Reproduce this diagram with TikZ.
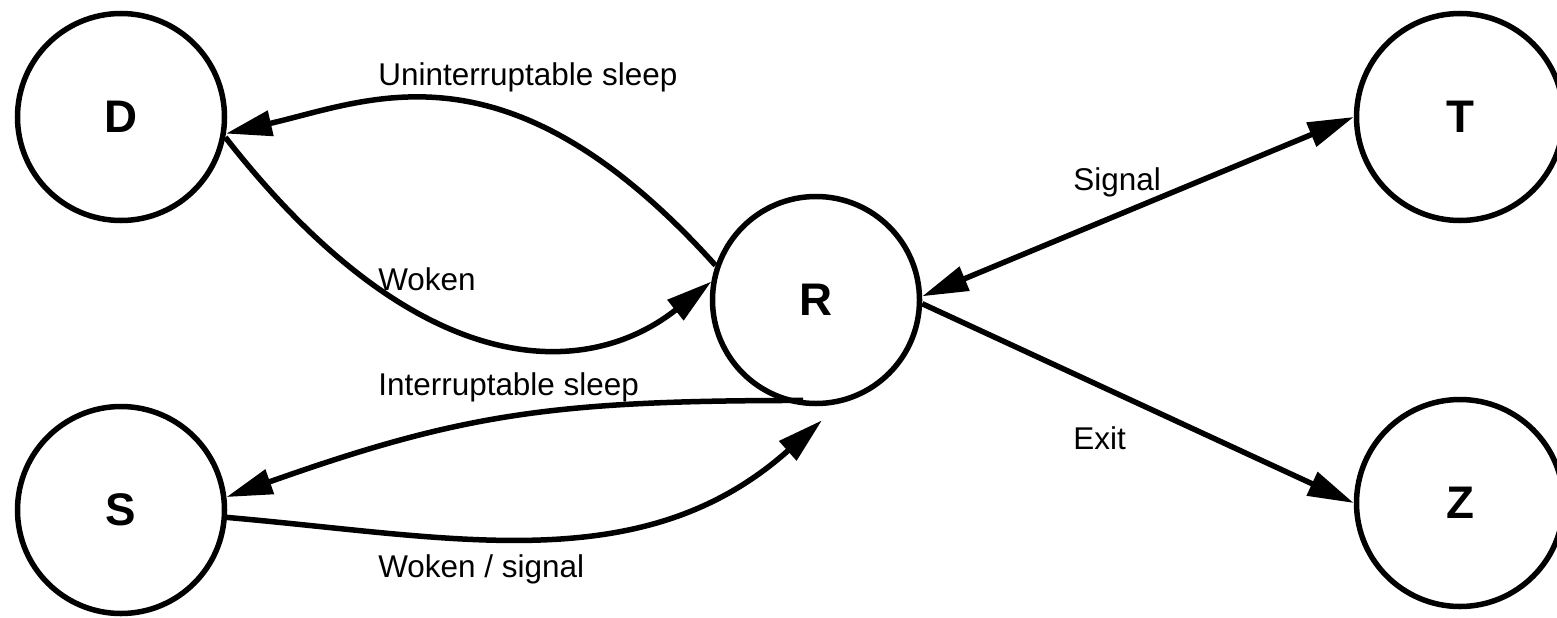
\documentclass[tikz,border=0pt]{standalone}
\usepackage{fontspec}
\setmainfont{Liberation Sans}
\usetikzlibrary{arrows.meta}
\begin{document}
\begin{tikzpicture}[
     x = 0.2mm, y = 0.2mm,
 state/.style = {circle, draw, line width=1.1mm,
                 minimum size=41.4mm, inner sep=0pt,
                 font=\fontsize{26}{30}\selectfont\bfseries},
   arr/.style = {line width=1.1mm, -{Triangle[length=9.2mm,width=5mm]}},
  darr/.style = {line width=1.1mm,
                 {Triangle[length=9.2mm,width=5mm]}-{Triangle[length=9.2mm,width=5mm]}},
   lbl/.style = {anchor=base west, inner sep=0pt,
                 font=\fontsize{17.9}{21}\selectfont}
                        ]
\useasboundingbox (0,0) rectangle (1557,-617);
    % states
\node (D) [state] at (121,-117) {D};
\node (S) [state] at (121,-510) {S};
\node (R) [state] at (816,-300) {R};
\node (T) [state] at (1460,-117) {T};
\node (Z) [state] at (1460,-503) {Z};
\coordinate (Rw) at ([shift={(6,-14)}]R.south);
    % transitions
\draw[arr]  (R.161) .. controls +(132:310) and +(13:150) .. (D.-9);
\draw[arr]  (D.-11) .. controls +(-52:320) and +(218.5:155) .. (R.170);
\draw[arr]  ([yshift=1mm]R.-97) .. controls +(180:250) and +(19.5:250) .. (S.7);
\draw[arr]  (S.-4) .. controls +(-5:230) and +(221.8:240) .. (Rw);
\draw[darr] (R.2) -- (T.west);
\draw[arr]  (R.-2) -- (Z.west);
    % labels
\node (lu) [lbl] at (378,-85)   {Uninterruptable sleep};
\node (lw) [lbl] at (378,-290)  {Woken};
\node (li) [lbl] at (378,-395)  {Interruptable sleep};
\node (ls) [lbl] at (378,-577)  {Woken / signal};
\node (lg) [lbl] at (1073,-190) {Signal};
\node (le) [lbl] at (1073,-449) {Exit};
\end{tikzpicture}
\end{document}
